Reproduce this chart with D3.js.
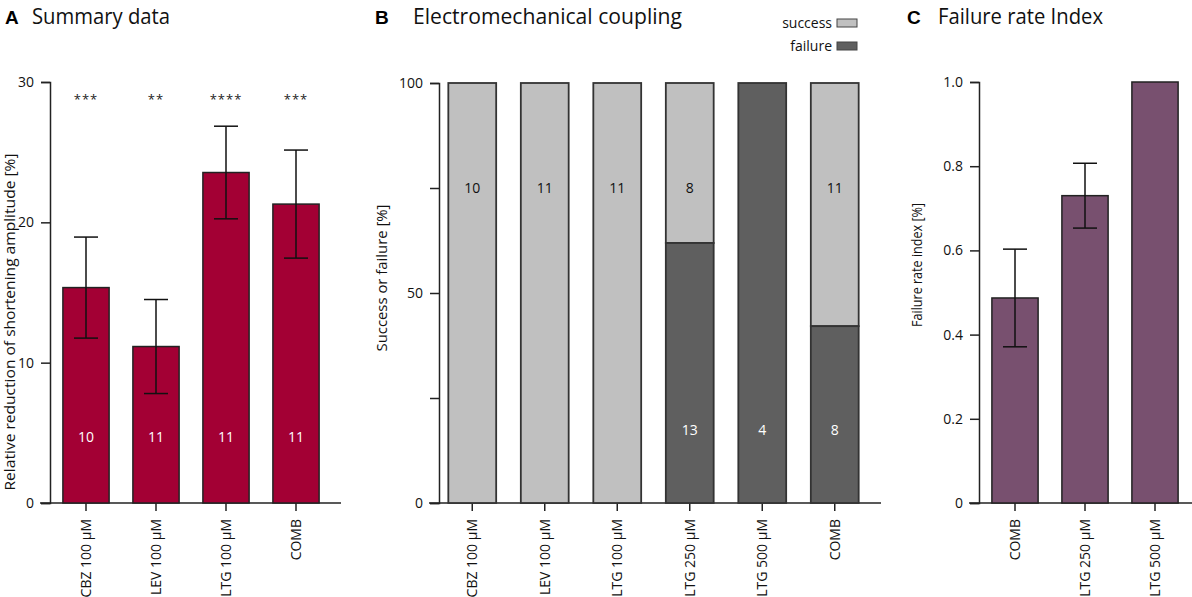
<!DOCTYPE html>
<html>
<head>
<meta charset="utf-8">
<script src="https://cdn.jsdelivr.net/npm/d3@7"></script>
<style>
  body { margin: 0; background: #fff; }
  svg { font-family: "Open Sans", "Noto Sans", sans-serif; }
  .domain, .tick line { stroke: #222; stroke-width: 1.5; }
  .tick text { font-size: 14px; fill: #111; font-family: "Open Sans", sans-serif; }
</style>
</head>
<body>
<svg id="chart" width="1192" height="597"></svg>
<script>
// panel A - summary data
var catsA = ["CBZ 100 µM", "LEV 100 µM", "LTG 100 µM", "COMB"];
var meanA = [15.35, 11.15, 23.55, 21.3];
var errA = [3.6, 3.35, 3.3, 3.85];
var nA = [10, 11, 11, 11];
var starsA = ["***", "**", "****", "***"];
var ticksA = [0, 10, 20, 30];

// panel B - electromechanical coupling (counts)
var catsB = ["CBZ 100 µM", "LEV 100 µM", "LTG 100 µM", "LTG 250 µM", "LTG 500 µM", "COMB"];
var successB = [10, 11, 11, 8, 0, 11];
var failureB = [0, 0, 0, 13, 4, 8];
var ticksB = [0, 25, 50, 75, 100];
var tickLabelsB = ["0", "", "50", "", "100"];

// panel C - failure rate index
var catsC = ["COMB", "LTG 250 µM", "LTG 500 µM"];
var meanC = [0.487, 0.73, 1.0];
var errC = [0.116, 0.077, 0];
var ticksC = [0, 0.2, 0.4, 0.6, 0.8, 1.0];

var svg = d3.select("#chart");
var y0 = 503, yTop = 82; // plot bottom / top in px

function title(x, letter, text, gap, len) {
	svg.append("text").attr("x", x).attr("y", 24)
		.attr("font-family", "Liberation Sans, Arial, sans-serif")
		.attr("font-weight", "bold").attr("font-size", 19).text(letter);
	svg.append("text").attr("x", x + gap).attr("y", 24)
		.attr("font-size", 21).attr("fill", "#111")
		.attr("textLength", len).attr("lengthAdjust", "spacingAndGlyphs")
		.text(text);
}

//draw axes of a panel; returns the band scale
function axes(xl, xr, axisX, cats, y, ticks, fmt, ylabel, labelX, labelY, labelLen) {
	var x = d3.scaleBand().domain(cats).range([xl, xr]).paddingInner(0.34).paddingOuter(0.17);
	var g = svg.append("g");
	g.append("g").attr("transform", "translate(" + axisX + ",0)")
		.call(d3.axisLeft(y).tickValues(ticks).tickFormat(fmt).tickSizeOuter(0).tickSize(9).tickPadding(7));
	g.append("g").attr("class", "xaxis").attr("transform", "translate(0," + y0 + ")")
		.call(d3.axisBottom(x).tickSize(8).tickSizeOuter(0))
		.call(function(a){ a.select(".domain").attr("d", "M" + (axisX - 10) + ",0H" + (xr + 10)); })
		.selectAll(".tick text")
		.attr("transform", "rotate(-90)")
		.attr("text-anchor", "end")
		.attr("x", -16).attr("y", 0).attr("dy", "0.35em");
	svg.append("text")
		.attr("transform", "translate(" + labelX + "," + labelY + ") rotate(-90)")
		.attr("text-anchor", "middle").attr("font-size", 14).attr("fill", "#111")
		.attr("textLength", labelLen).attr("lengthAdjust", "spacingAndGlyphs")
		.text(ylabel);
	return x;
}

function errorBars(x, y, cats, mean, err, cap) {
	cats.forEach(function(c, i) {
		if (!err[i]) return;
		var cx = x(c) + x.bandwidth() / 2;
		var g = svg.append("g").attr("stroke", "#111").attr("stroke-width", 1.5);
		g.append("line").attr("x1", cx).attr("x2", cx).attr("y1", y(mean[i] + err[i])).attr("y2", y(mean[i] - err[i]));
		g.append("line").attr("x1", cx - cap).attr("x2", cx + cap).attr("y1", y(mean[i] + err[i])).attr("y2", y(mean[i] + err[i]));
		g.append("line").attr("x1", cx - cap).attr("x2", cx + cap).attr("y1", y(mean[i] - err[i])).attr("y2", y(mean[i] - err[i]));
	});
}

// ---------- A ----------
title(5, "A", "Summary data", 27, 138);
var yA = d3.scaleLinear().domain([0, 30]).range([y0, yTop]);
var xA = axes(51, 331, 50, catsA, yA, ticksA, d3.format("d"),
	"Relative reduction of shortening amplitude [%]", 15, 322, 337);
svg.append("g").selectAll("rect").data(catsA).enter().append("rect")
	.attr("x", function(d){ return xA(d); })
	.attr("width", xA.bandwidth())
	.attr("y", function(d, i){ return yA(meanA[i]); })
	.attr("height", function(d, i){ return y0 - yA(meanA[i]); })
	.attr("fill", "#a30034").attr("stroke", "#222").attr("stroke-width", 1.5);
errorBars(xA, yA, catsA, meanA, errA, 12);
svg.append("g").selectAll("text").data(catsA).enter().append("text")
	.attr("x", function(d){ return xA(d) + xA.bandwidth() / 2; })
	.attr("y", 442).attr("text-anchor", "middle").attr("font-size", 14).attr("fill", "#fff")
	.text(function(d, i){ return nA[i]; });
svg.append("g").selectAll("text").data(catsA).enter().append("text")
	.attr("x", function(d){ return xA(d) + xA.bandwidth() / 2; })
	.attr("y", 104).attr("text-anchor", "middle").attr("font-size", 13).attr("fill", "#222")
	.attr("letter-spacing", 1)
	.text(function(d, i){ return starsA[i]; });

// ---------- B ----------
title(375, "B", "Electromechanical coupling", 38, 269);
var yB = d3.scaleLinear().domain([0, 100]).range([y0, yTop + 1]);
var xB = axes(436, 871, 439, catsB, yB, ticksB, function(d, i){ return tickLabelsB[i]; },
	"Success or failure [%]", 387, 278, 147);
var gB = svg.append("g");
catsB.forEach(function(c, i) {
	var tot = successB[i] + failureB[i];
	var fPct = failureB[i] / tot * 100;
	gB.append("rect").attr("x", xB(c)).attr("width", xB.bandwidth())
		.attr("y", yB(100)).attr("height", yB(fPct) - yB(100))
		.attr("fill", "#c0c0c0").attr("stroke", "#333").attr("stroke-width", 1.8);
	if (failureB[i] > 0)
		gB.append("rect").attr("x", xB(c)).attr("width", xB.bandwidth())
			.attr("y", yB(fPct)).attr("height", y0 - yB(fPct))
			.attr("fill", "#5f5f5f").attr("stroke", "#333").attr("stroke-width", 1.8);
	var cx = xB(c) + xB.bandwidth() / 2;
	if (successB[i] > 0)
		gB.append("text").attr("x", cx).attr("y", yB(75) + 5).attr("text-anchor", "middle")
			.attr("font-size", 14).attr("fill", "#111").text(successB[i]);
	if (failureB[i] > 0)
		gB.append("text").attr("x", cx).attr("y", yB(17.5) + 5).attr("text-anchor", "middle")
			.attr("font-size", 14).attr("fill", "#fff").text(failureB[i]);
});
// legend
var legB = [["success", "#c0c0c0"], ["failure", "#5f5f5f"]];
legB.forEach(function(l, i) {
	svg.append("text").attr("x", 832).attr("y", 28 + i * 23).attr("text-anchor", "end")
		.attr("font-size", 14).attr("fill", "#111").text(l[0]);
	svg.append("rect").attr("x", 837).attr("y", 19 + i * 23).attr("width", 20).attr("height", 8)
		.attr("fill", l[1]).attr("stroke", "#444").attr("stroke-width", 1);
});

// ---------- C ----------
title(907, "C", "Failure rate Index", 31, 165);
var yC = d3.scaleLinear().domain([0, 1]).range([y0, yTop]);
var xC = axes(980, 1190, 979, catsC, yC, ticksC, function(d){ return d == 0 ? "0" : d3.format(".1f")(d); },
	"Failure rate index  [%]", 922, 265, 124);
svg.append("g").selectAll("rect").data(catsC).enter().append("rect")
	.attr("x", function(d){ return xC(d); })
	.attr("width", xC.bandwidth())
	.attr("y", function(d, i){ return yC(meanC[i]); })
	.attr("height", function(d, i){ return y0 - yC(meanC[i]); })
	.attr("fill", "#78506f").attr("stroke", "#222").attr("stroke-width", 1.5);
errorBars(xC, yC, catsC, meanC, errC, 12);
</script>
</body>
</html>
